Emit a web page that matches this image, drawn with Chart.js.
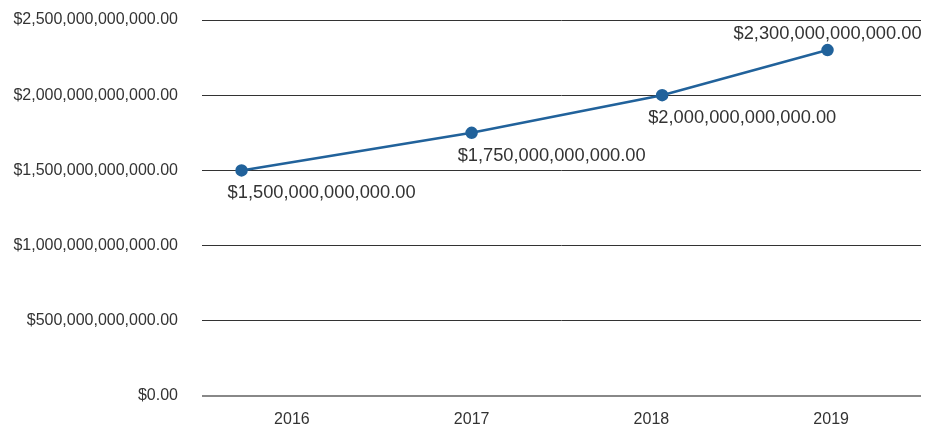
<!DOCTYPE html>
<html>
<head>
<meta charset="utf-8">
<script src="https://cdn.jsdelivr.net/npm/chart.js@4.4.1/dist/chart.umd.min.js"></script>
<style>
  html, body { margin: 0; padding: 0; background: #fff; }
  #wrap { width: 925px; height: 429px; }
</style>
</head>
<body>
<div id="wrap"><canvas id="my-Value-Chart"></canvas></div>
<script>
// data
const years = [2016, 2017, 2018, 2019];
const pointYears = [2016.22, 2017.5, 2018.56, 2019.48]; // posisi titik di dalam tahun
const values = [1500000000000, 1750000000000, 2000000000000, 2300000000000];
const yTicks = [0, 500000000000, 1000000000000, 1500000000000, 2000000000000, 2500000000000];

const lineColor = '#21629b';
const textColor = '#333333';

function money(v) {
    return '$' + Number(v).toLocaleString('en-US', { minimumFractionDigits: 2, maximumFractionDigits: 2 });
}

// plugin label nilai di samping titik
const valueLabels = {
    id: 'valueLabels',
    afterDatasetsDraw(chart) {
        const ctx = chart.ctx;
        const meta = chart.getDatasetMeta(0);
        ctx.save();
        ctx.font = '18.3px "Liberation Sans", Arial, sans-serif';
        ctx.fillStyle = textColor;
        ctx.textBaseline = 'middle';
        meta.data.forEach((pt, i) => {
            const text = money(values[i]);
            if (i === meta.data.length - 1) {
                ctx.textAlign = 'center';
                ctx.fillText(text, pt.x, pt.y - 16);
            } else {
                ctx.textAlign = 'left';
                ctx.fillText(text, pt.x - 14, pt.y + 23);
            }
        });
        ctx.restore();
    }
};

const ctx = document.getElementById('my-Value-Chart').getContext('2d');
new Chart(ctx, {
    type: 'line',
    data: {
        datasets: [{
            data: pointYears.map((x, i) => ({ x: x, y: values[i] })),
            borderColor: lineColor,
            backgroundColor: lineColor,
            pointBackgroundColor: lineColor,
            pointBorderColor: lineColor,
            borderWidth: 2.5,
            pointRadius: 5,
            tension: 0
        }]
    },
    options: {
        responsive: true,
        maintainAspectRatio: false,
        animation: false,
        layout: { autoPadding: false, padding: { top: 20, right: 4, left: 0, bottom: 0 } },
        plugins: {
            legend: { display: false },
            tooltip: { enabled: false }
        },
        scales: {
            x: {
                type: 'linear',
                min: years[0],
                max: years[years.length - 1] + 1,
                afterBuildTicks: scale => {
                    scale.ticks = years.map(y => ({ value: y + 0.5 }));
                },
                afterFit: scale => {
                    scale.height = 33;
                    scale.paddingLeft = 0;
                    scale.paddingRight = 0;
                },
                grid: { display: false },
                border: { display: false },
                ticks: {
                    color: textColor,
                    padding: 6,
                    font: { family: '"Liberation Sans", Arial, sans-serif', size: 16 },
                    callback: v => String(Math.floor(v))
                }
            },
            y: {
                min: 0,
                max: yTicks[yTicks.length - 1],
                afterBuildTicks: scale => {
                    scale.ticks = yTicks.map(v => ({ value: v }));
                },
                afterFit: scale => {
                    scale.width = 202;
                    scale.paddingTop = 0;
                    scale.paddingBottom = 0;
                },
                border: { display: false },
                grid: {
                    drawTicks: false,
                    color: ctx => ctx.tick && ctx.tick.value === 0 ? '#888888' : '#333333',
                    lineWidth: ctx => ctx.tick && ctx.tick.value === 0 ? 2 : 1
                },
                ticks: {
                    color: textColor,
                    padding: 24,
                    font: { family: '"Liberation Sans", Arial, sans-serif', size: 16 },
                    callback: v => money(v)
                }
            }
        }
    },
    plugins: [valueLabels]
});
</script>
</body>
</html>
